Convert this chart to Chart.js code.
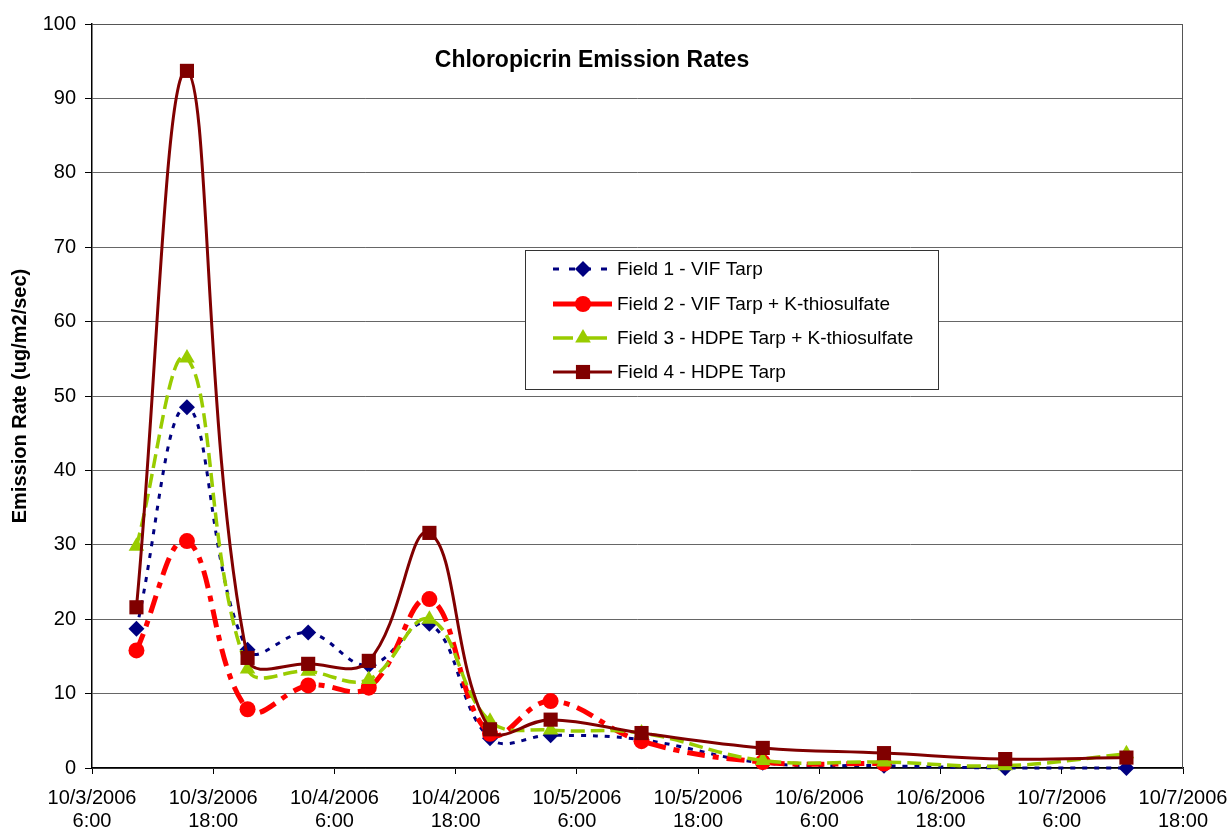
<!DOCTYPE html>
<html>
<head>
<meta charset="utf-8">
<script src="https://cdn.jsdelivr.net/npm/chart.js@4/dist/chart.umd.min.js"></script>
<style>
	body { margin: 0; background: #fff; }
	#wrap { width: 1230px; height: 830px; }
</style>
</head>
<body>
<div id="wrap"><canvas id="chart" width="1230" height="830"></canvas></div>
<script>
// hours since 10/3/2006 0:00
const sampleHours = [10.4, 15.4, 21.4, 27.4, 33.4, 39.4, 45.4, 51.4, 60.4, 72.4, 84.4, 96.4, 108.4];

const field1 = [18.7, 48.5, 15.9, 18.2, 13.8, 19.4, 4.0, 4.4, 3.8, 0.7, 0.3, 0.0, 0.0];
const field2 = [15.8, 30.5, 7.9, 11.1, 10.8, 22.7, 4.6, 9.0, 3.6, 0.8, 0.6, null, null];
const field3 = [29.8, 55.1, 13.3, 13.0, 11.9, 20.0, 6.3, 5.1, 4.7, 1.0, 0.8, 0.3, 1.9];
const field4 = [21.6, 93.7, 14.8, 14.0, 14.4, 31.6, 5.2, 6.5, 4.7, 2.7, 2.0, 1.2, 1.4];

const seriesNames = [
	'Field 1 - VIF Tarp',
	'Field 2 - VIF Tarp + K-thiosulfate',
	'Field 3 - HDPE Tarp + K-thiosulfate',
	'Field 4 - HDPE Tarp',
];

const xTickHours = [6, 18, 30, 42, 54, 66, 78, 90, 102, 114];
const xTickLabels = [
	['10/3/2006', '6:00'], ['10/3/2006', '18:00'],
	['10/4/2006', '6:00'], ['10/4/2006', '18:00'],
	['10/5/2006', '6:00'], ['10/5/2006', '18:00'],
	['10/6/2006', '6:00'], ['10/6/2006', '18:00'],
	['10/7/2006', '6:00'], ['10/7/2006', '18:00'],
];

const FONT = '"Liberation Sans", Arial, sans-serif';

function pts(values) {
	return sampleHours.map((h, i) => ({ x: h, y: values[i] }));
}

function marker(ctx, style, x, y, r, color) {
	ctx.save();
	ctx.setLineDash([]);
	ctx.fillStyle = color;
	ctx.beginPath();
	if (style === 'circle') {
		ctx.arc(x, y, r, 0, Math.PI * 2);
	} else if (style === 'rectRot') {
		ctx.moveTo(x, y - r); ctx.lineTo(x + r, y); ctx.lineTo(x, y + r); ctx.lineTo(x - r, y);
	} else if (style === 'triangle') {
		ctx.moveTo(x, y - r); ctx.lineTo(x + r * 0.87, y + r * 0.5); ctx.lineTo(x - r * 0.87, y + r * 0.5);
	} else {
		const s = r * 0.707;
		ctx.rect(x - s, y - s, s * 2, s * 2);
	}
	ctx.closePath();
	ctx.fill();
	ctx.restore();
}

const overlay = {
	id: 'overlay',
	beforeDatasetsDraw(chart) {
		const { ctx, chartArea: a } = chart;
		ctx.save();
		ctx.strokeStyle = '#555';
		ctx.lineWidth = 1;
		ctx.beginPath();
		ctx.moveTo(a.left, a.top + 0.5);
		ctx.lineTo(a.right - 0.5, a.top + 0.5);
		ctx.lineTo(a.right - 0.5, a.bottom);
		ctx.stroke();
		ctx.restore();
	},
	afterDraw(chart) {
		const ctx = chart.ctx;
		ctx.save();
		ctx.fillStyle = '#000';
		ctx.font = 'bold 23px ' + FONT;
		ctx.textAlign = 'center';
		ctx.textBaseline = 'middle';
		ctx.fillText('Chloropicrin Emission Rates', 592, 61);

		// legend box
		ctx.fillStyle = '#fff';
		ctx.fillRect(525, 250, 413, 139);
		ctx.strokeStyle = '#333';
		ctx.lineWidth = 1;
		ctx.strokeRect(525.5, 250.5, 413, 139);
		const rows = [269, 304, 338, 372];
		const legendDash = [[6, 10], [], [20, 14], []];
		chart.data.datasets.forEach((ds, i) => {
			const y = rows[i];
			ctx.save();
			ctx.strokeStyle = ds.borderColor;
			ctx.lineWidth = ds.borderWidth;
			ctx.setLineDash(legendDash[i]);
			ctx.beginPath();
			ctx.moveTo(553, y);
			ctx.lineTo(612, y);
			ctx.stroke();
			ctx.restore();
			marker(ctx, ds.pointStyle, 583, y, ds.pointRadius, ds.pointBackgroundColor);
			ctx.fillStyle = '#000';
			ctx.font = '19px ' + FONT;
			ctx.textAlign = 'left';
			ctx.fillText(ds.label, 617, y + 1);
		});
		ctx.restore();
	},
};

const config = {
	type: 'line',
	data: {
		datasets: [
			{
				label: seriesNames[0], data: pts(field1), order: 4,
				borderColor: '#000080', borderWidth: 3, borderDash: [5, 7],
				pointStyle: 'rectRot', pointRadius: 8, pointBackgroundColor: '#000080', pointBorderWidth: 0,
			},
			{
				label: seriesNames[1], data: pts(field2), order: 3,
				borderColor: '#ff0000', borderWidth: 5, borderDash: [18, 8, 6, 8],
				pointStyle: 'circle', pointRadius: 8, pointBackgroundColor: '#ff0000', pointBorderWidth: 0,
			},
			{
				label: seriesNames[2], data: pts(field3), order: 2,
				borderColor: '#99cc00', borderWidth: 3.5, borderDash: [14, 6],
				pointStyle: 'triangle', pointRadius: 9, pointBackgroundColor: '#99cc00', pointBorderWidth: 0,
			},
			{
				label: seriesNames[3], data: pts(field4), order: 1,
				borderColor: '#800000', borderWidth: 3, borderDash: [],
				pointStyle: 'rect', pointRadius: 10, pointBackgroundColor: '#800000', pointBorderWidth: 0,
			},
		],
	},
	options: {
		responsive: false,
		animation: false,
		tension: 0.4,
		clip: false,
		layout: { padding: { top: 24, right: 47, left: 0, bottom: 0 } },
		plugins: {
			legend: { display: false },
			title: { display: false },
			tooltip: { enabled: false },
		},
		scales: {
			x: {
				type: 'linear',
				min: 6,
				max: 114,
				afterBuildTicks(scale) {
					scale.ticks = xTickHours.map(v => ({ value: v }));
				},
				afterFit(scale) {
					scale.height = 62;
					scale.paddingLeft = 0;
					scale.paddingRight = 0;
				},
				ticks: {
					autoSkip: false,
					maxRotation: 0,
					padding: 13,
					color: '#000',
					font: { family: FONT, size: 20, lineHeight: 1.15 },
					callback: (v) => xTickLabels[xTickHours.indexOf(v)],
				},
				grid: { drawOnChartArea: false, tickLength: 6, color: '#000' },
				border: { color: '#000', width: 1.5 },
			},
			y: {
				min: 0,
				max: 100,
				afterFit(scale) { scale.width = 92; },
				ticks: {
					stepSize: 10,
					padding: 9,
					color: '#000',
					font: { family: FONT, size: 20 },
				},
				grid: { color: '#666', tickColor: '#000', tickLength: 7 },
				border: { color: '#000', width: 1.5 },
				title: {
					display: true,
					text: 'Emission Rate (ug/m2/sec)',
					color: '#000',
					font: { family: FONT, size: 20, weight: 'bold' },
					padding: { top: 8, bottom: 0 },
				},
			},
		},
	},
	plugins: [overlay],
};

new Chart(document.getElementById('chart'), config);
</script>
</body>
</html>
